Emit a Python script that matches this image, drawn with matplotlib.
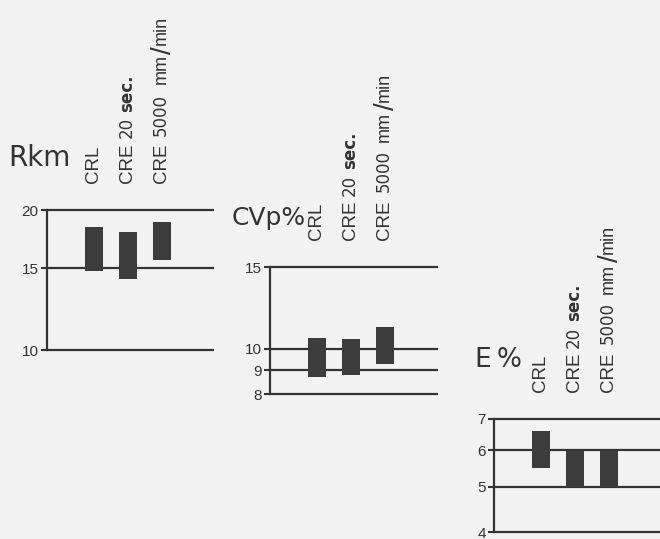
import matplotlib
matplotlib.use('Agg')
import matplotlib.pyplot as plt
import numpy as np

plt.rcParams['font.family'] = ['Liberation Sans', 'DejaVu Sans']

# ---- data ----
methods = ['CRL', 'CRE 20 sec.', 'CRE 5000 mm/min']
rkm_low = [14.8, 14.2, 15.6]
rkm_high = [18.4, 17.9, 18.8]
cvp_low = [8.7, 8.8, 9.3]
cvp_high = [10.55, 10.5, 11.15]
e_low = [5.5, 5.0, 5.0]
e_high = [6.6, 6.0, 6.0]
rkm_ticks = [10, 15, 20]
cvp_ticks = [8, 9, 10, 15]
e_ticks = [4, 5, 6, 7]
titles = ['Rkm', 'CVp%', 'E\u2009%']

# label pieces for each method: (text, size, family, weight, gap_px)
label_pieces = [
    [('CRL', 13.5, 'Liberation Sans', 'normal', 0)],
    [('CRE', 13.5, 'Liberation Sans', 'normal', 0),
     ('20', 12, 'DejaVu Sans', 'normal', 5),
     ('sec.', 12, 'DejaVu Sans', 'bold', 5)],
    [('CRE', 13.5, 'Liberation Sans', 'normal', 0),
     ('5000', 12, 'DejaVu Sans', 'normal', 8),
     ('mm', 13, 'Liberation Sans', 'normal', 9),
     ('/', 20, 'Liberation Sans', 'normal', 1),
     ('min', 13, 'Liberation Sans', 'normal', 1)],
]

W, H = 660, 539
fig = plt.figure(figsize=(W / 100, H / 100), dpi=100)
fig.patch.set_facecolor('#f2f2f2')

INK = '#333333'
BAR = '#3c3c3c'

# panel layout in pixels: left, right, top, bottom
panels = [
    dict(box=(47, 213, 210, 350), low=rkm_low, high=rkm_high, ticks=rkm_ticks,
         title=titles[0], tpos=(8, 166), tsize=20),
    dict(box=(270, 437, 267, 394), low=cvp_low, high=cvp_high, ticks=cvp_ticks,
         title=titles[1], tpos=(232, 225), tsize=18),
    dict(box=(494, 662, 419, 532), low=e_low, high=e_high, ticks=e_ticks,
         title=titles[2], tpos=(475, 367), tsize=19),
]

spacing = 34.0
for p in panels:
    l, r, t, b = p['box']
    ax = fig.add_axes([l / W, 1 - b / H, (r - l) / W, (b - t) / H])
    ax.set_facecolor('none')
    ax.set_yscale('log')
    ax.set_ylim(min(p['ticks']), max(p['ticks']))
    ax.set_xlim(-47 / spacing, (r - l - 47) / spacing)
    for s in ['top', 'right', 'bottom']:
        ax.spines[s].set_visible(False)
    ax.spines['left'].set_color(INK)
    ax.spines['left'].set_linewidth(1.6)
    ax.set_xticks([])
    ax.yaxis.set_minor_locator(matplotlib.ticker.NullLocator())
    ax.set_yticks(p['ticks'])
    ax.set_yticklabels([str(v) for v in p['ticks']])
    ax.tick_params(axis='y', direction='out', length=4, width=1.5, color=INK,
                   labelsize=11, labelcolor=INK, pad=2)
    for v in p['ticks']:
        ax.axhline(v, color=INK, lw=1.6, clip_on=False, zorder=1)
    x = np.arange(len(methods))
    heights = np.array(p['high']) - np.array(p['low'])
    ax.bar(x, heights, bottom=p['low'], width=0.53, color=BAR, zorder=3)

    # rotated method labels, built piece by piece on a common baseline
    for i, pieces in enumerate(label_pieces):
        prev = None
        base = None
        for txt, sz, fam, wt, gap in pieces:
            kw = dict(fontsize=sz, family=[fam, 'DejaVu Sans'], fontweight=wt,
                      color=INK, annotation_clip=False, va='bottom',
                      rotation=90, ha='right')
            if prev is None:
                prev = ax.annotate(txt, xy=(i, 1), xycoords=('data', 'axes fraction'),
                                   xytext=(8, 27), textcoords='offset pixels', **kw)
                base = prev
            elif txt == '/':
                prev = ax.annotate(txt, xy=(1, 1), xycoords=base,
                                   xytext=(7, gap), textcoords='offset pixels', **kw)
            else:
                prev = ax.annotate(txt, xy=(1, 1), xycoords=(base, prev),
                                   xytext=(0, gap), textcoords='offset pixels', **kw)
                base = prev

    tx, ty = p['tpos']
    fig.text(tx / W, 1 - ty / H, p['title'], fontsize=p['tsize'], color=INK,
             family=['DejaVu Sans'], ha='left', va='baseline')

fig.savefig('out.png', dpi=100, facecolor=fig.get_facecolor())
